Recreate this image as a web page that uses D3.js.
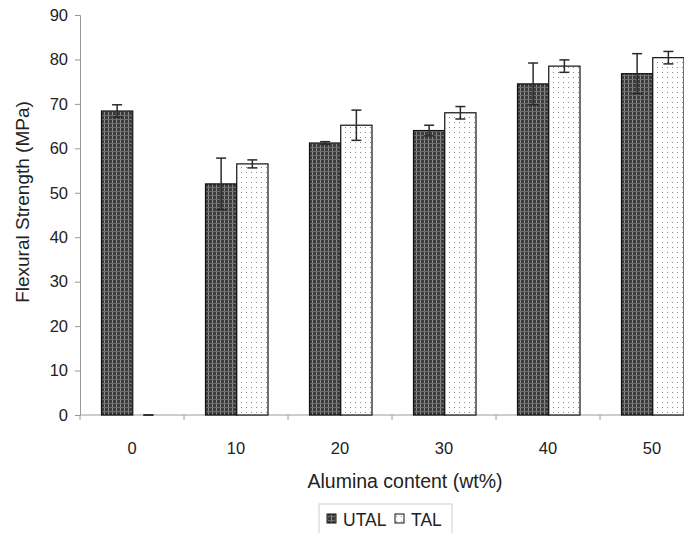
<!DOCTYPE html>
<html>
<head>
<meta charset="utf-8">
<script src="https://cdn.jsdelivr.net/npm/d3@7"></script>
<style>
  body { margin: 0; background: #fff; }
  text { font-family: "Liberation Sans", Arial, sans-serif; fill: #222; }
</style>
</head>
<body>
<div id="chart"></div>
<script>
// data
const categories = ["0", "10", "20", "30", "40", "50"];
const series = ["UTAL", "TAL"];
const utal = [68.4, 52.0, 61.2, 64.0, 74.5, 76.8];
const utalErr = [1.4, 5.8, 0.3, 1.2, 4.7, 4.5];
const tal = [0, 56.5, 65.2, 68.0, 78.5, 80.4];
const talErr = [0, 0.9, 3.4, 1.4, 1.4, 1.4];
const yTicks = [0, 10, 20, 30, 40, 50, 60, 70, 80, 90];

const W = 684, H = 533;
const margin = {top: 15, right: -20, bottom: 118, left: 80},
    width = W - margin.left - margin.right,
    height = H - margin.top - margin.bottom;

const svg = d3.select("#chart")
    .append("svg")
    .attr("width", W)
    .attr("height", H);

// patterns for the two series
const defs = svg.append("defs");
const pu = defs.append("pattern")
    .attr("id", "pat-utal")
    .attr("patternUnits", "userSpaceOnUse")
    .attr("width", 4).attr("height", 4);
pu.append("rect").attr("width", 4).attr("height", 4).attr("fill", "#3c3c3c");
pu.append("rect").attr("x", 0).attr("y", 0).attr("width", 1).attr("height", 4).attr("fill", "#8a8a8a");
pu.append("rect").attr("x", 0).attr("y", 0).attr("width", 4).attr("height", 1).attr("fill", "#6e6e6e");

const pt = defs.append("pattern")
    .attr("id", "pat-tal")
    .attr("patternUnits", "userSpaceOnUse")
    .attr("width", 5).attr("height", 5);
pt.append("rect").attr("width", 5).attr("height", 5).attr("fill", "#fff");
pt.append("rect").attr("x", 2).attr("y", 2).attr("width", 1).attr("height", 1).attr("fill", "#8a8a8a");

const g = svg.append("g")
    .attr("transform", "translate(" + margin.left + "," + margin.top + ")");

const x = d3.scaleBand().domain(categories).range([0, width]).padding(0);
const xs = d3.scaleBand().domain(series).range([21.5, 84]);
const y = d3.scaleLinear().domain([0, 90]).range([height, 0]);

// X axis
const xAxis = g.append("g")
    .attr("transform", "translate(0," + height + ")");
xAxis.append("line")
    .attr("x1", 0).attr("x2", width)
    .attr("stroke", "#9a9a9a");
xAxis.selectAll(".xt")
    .data(categories)
    .join("line")
    .attr("x1", d => x(d)).attr("x2", d => x(d))
    .attr("y1", 0).attr("y2", 5)
    .attr("stroke", "#9a9a9a");
xAxis.selectAll(".xl")
    .data(categories)
    .join("text")
    .attr("x", d => x(d) + x.bandwidth() / 2)
    .attr("y", 39)
    .attr("text-anchor", "middle")
    .style("font-size", "16.5px")
    .text(d => d);

// Y axis
const yAxis = g.append("g").call(d3.axisLeft(y).tickValues(yTicks).tickSize(5).tickPadding(7));
yAxis.select(".domain").attr("stroke", "#9a9a9a");
yAxis.selectAll(".tick line").attr("stroke", "#9a9a9a");
yAxis.selectAll(".tick text")
    .style("font-size", "16.5px")
    .style("font-family", "'Liberation Sans', Arial, sans-serif")
    .attr("fill", "#222");

// bars
const groups = g.selectAll(".grp")
    .data(categories)
    .join("g")
    .attr("transform", d => "translate(" + x(d) + ",0)");

const rows = categories.map((c, i) => [
    {s: "UTAL", v: utal[i], e: utalErr[i]},
    {s: "TAL", v: tal[i], e: talErr[i]}
]);

groups.each(function(c, i) {
    const gg = d3.select(this);
    const items = rows[i];
    gg.selectAll("rect")
        .data(items.filter(d => d.v > 0))
        .join("rect")
        .attr("x", d => xs(d.s))
        .attr("y", d => y(d.v))
        .attr("width", xs.bandwidth())
        .attr("height", d => height - y(d.v))
        .attr("fill", d => d.s === "UTAL" ? "url(#pat-utal)" : "url(#pat-tal)")
        .attr("stroke", "#111")
        .attr("stroke-width", 1.2);

    // error bars
    items.forEach(d => {
        const cx = xs(d.s) + xs.bandwidth() / 2;
        const eg = gg.append("g").attr("stroke", "#2a2a2a").attr("stroke-width", 1.5);
        eg.append("line")
            .attr("x1", cx).attr("x2", cx)
            .attr("y1", y(d.v + d.e)).attr("y2", y(d.v - d.e));
        eg.append("line")
            .attr("x1", cx - 5).attr("x2", cx + 5)
            .attr("y1", y(d.v + d.e)).attr("y2", y(d.v + d.e));
        eg.append("line")
            .attr("x1", cx - 5).attr("x2", cx + 5)
            .attr("y1", y(d.v - d.e)).attr("y2", y(d.v - d.e));
    });
});

// Y axis label
svg.append("text")
    .attr("text-anchor", "middle")
    .attr("transform", "translate(29,202) rotate(-90)")
    .style("font-size", "19px")
    .text("Flexural Strength (MPa)");

// X axis label
svg.append("text")
    .attr("text-anchor", "middle")
    .attr("x", 405)
    .attr("y", 488)
    .style("font-size", "19.5px")
    .text("Alumina content (wt%)");

// legend
const leg = svg.append("g").attr("transform", "translate(319,504)");
leg.append("rect")
    .attr("width", 133).attr("height", 35)
    .attr("fill", "#fff")
    .attr("stroke", "#cfcfcf");
const legX = [8, 76];
series.forEach((s, i) => {
    leg.append("rect")
        .attr("x", legX[i]).attr("y", 10)
        .attr("width", 9).attr("height", 9)
        .attr("fill", s === "UTAL" ? "url(#pat-utal)" : "url(#pat-tal)")
        .attr("stroke", "#111");
    leg.append("text")
        .attr("x", legX[i] + 16).attr("y", 22)
        .style("font-size", "17.5px")
        .text(s);
});
</script>
</body>
</html>
